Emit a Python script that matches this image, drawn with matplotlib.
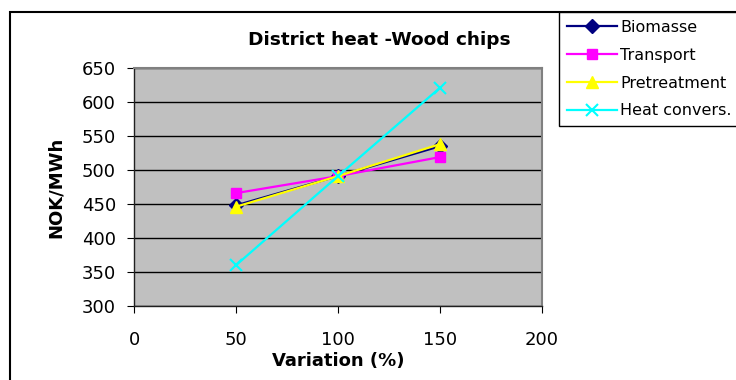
import numpy as np
import matplotlib
matplotlib.use("Agg")
import matplotlib.pyplot as plt
from matplotlib.patches import Rectangle

plt.rcParams['font.family'] = ['DejaVu Sans']

# ---- DATA ----
variation = [50, 100, 150]
biomasse = [448, 491, 535]
transport = [466, 491, 519]
pretreatment = [446, 491, 538]
heat_convers = [360, 491, 621]

series_names = ["Biomasse", "Transport", "Pretreatment", "Heat convers."]
x_ticks = [0, 50, 100, 150, 200]
y_ticks = [300, 350, 400, 450, 500, 550, 600, 650]

fig = plt.figure(figsize=(7.36, 3.8), dpi=100)
ax = fig.add_axes([134/736, 1 - 306/380, (542 - 134)/736, (306 - 68)/380])
ax.set_facecolor('#C0C0C0')

styles = [
    dict(color='#000080', marker='D', markersize=7),
    dict(color='#FF00FF', marker='s', markersize=7.5),
    dict(color='#FFFF00', marker='^', markersize=8.5),
    dict(color='#00FFFF', marker='x', markersize=8, markeredgewidth=1.5),
]
all_series = [biomasse, transport, pretreatment, heat_convers]
for name, vals, st in zip(series_names, all_series, styles):
    ax.plot(variation, vals, label=name, linewidth=1.6, **st)

ax.set_xlim(0, 200)
ax.set_ylim(300, 650)
ax.set_xticks(x_ticks)
ax.set_yticks(y_ticks)
ax.yaxis.grid(True, color='black', linewidth=1)
ax.set_axisbelow(True)

for s in ['top', 'right']:
    ax.spines[s].set_color('#808080')
    ax.spines[s].set_linewidth(1.5)
for s in ['left', 'bottom']:
    ax.spines[s].set_color('#202020')
    ax.spines[s].set_linewidth(1)

ax.tick_params(axis='y', direction='out', length=5, pad=8, labelsize=13)
ax.tick_params(axis='x', direction='out', length=5, pad=13, labelsize=13)

ax.set_xlabel("Variation (%)", fontsize=13, fontweight='bold', labelpad=2)
ax.set_ylabel("NOK/MWh", fontsize=13, fontweight='bold', labelpad=12)

fig.text(379/736, 1 - 40/380, "District heat -Wood chips", ha='center', va='center',
         fontsize=13.3, fontweight='bold')

# outer chart frame
fig.patches.append(Rectangle((10/736, -0.1), 1.1, 1 - 12/380 + 0.1, transform=fig.transFigure,
                             fill=False, edgecolor='black', linewidth=1.5))

leg = fig.legend(loc='upper left', bbox_to_anchor=(559/736, 1 - 12/380), fontsize=11.5,
                 frameon=True, fancybox=False, handlelength=3.1, handletextpad=0.25,
                 borderpad=0.5, labelspacing=0.8, borderaxespad=0)
leg.get_frame().set_edgecolor('black')
leg.get_frame().set_linewidth(1)
leg.get_frame().set_facecolor('white')
leg.get_frame().set_alpha(1)

fig.savefig("out.png", dpi=100)
